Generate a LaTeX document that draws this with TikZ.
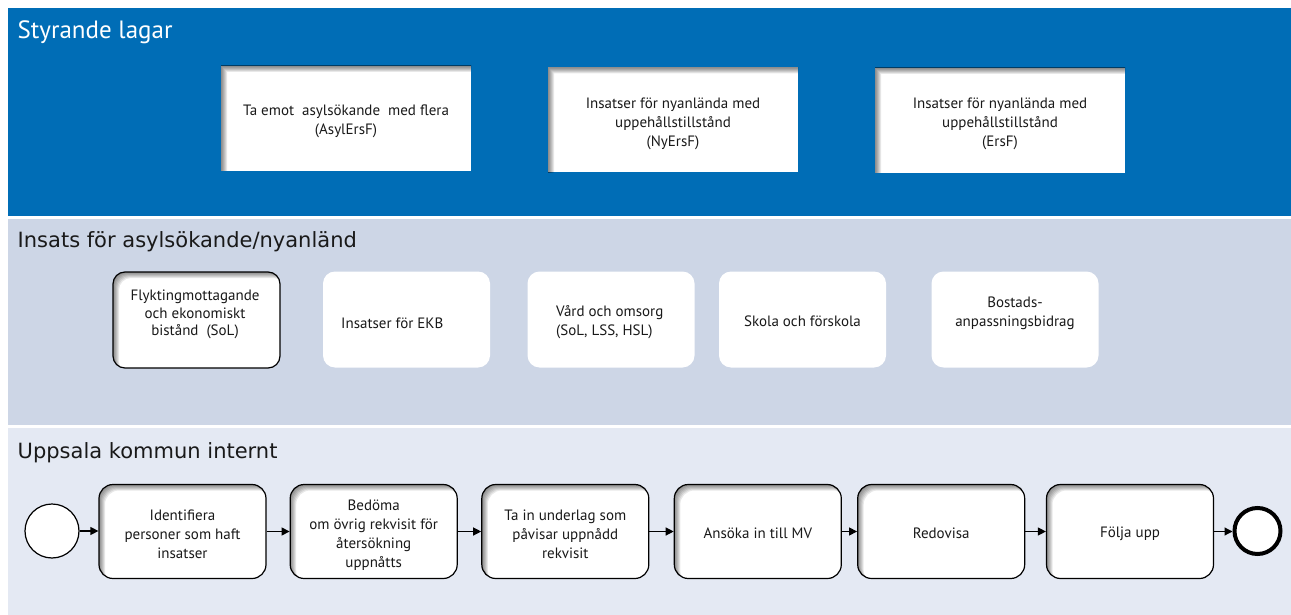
\documentclass[tikz,border=0pt]{standalone}
\usepackage{fontspec}
\setmainfont{PT Sans}
\newfontfamily\hdrfont{DejaVu Sans}
\usetikzlibrary{arrows.meta,calc}
\definecolor{topblue}{RGB}{0,109,182}
\definecolor{midband}{RGB}{205,214,230}
\definecolor{lowband}{RGB}{228,233,243}
\definecolor{txt}{RGB}{25,25,25}
\tikzset{
  ishadow/.style={path picture={
    \foreach \s in {1,...,6} {
      \fill[black,opacity=0.09,even odd rule,rounded corners=#1]
        ($(path picture bounding box.south west)+(-30pt,-30pt)$) rectangle ($(path picture bounding box.north east)+(30pt,30pt)$)
        ($(path picture bounding box.south west)+(\s pt,-\s pt)$) rectangle ($(path picture bounding box.north east)+(\s pt,-\s pt)$);
    }}},
  boxfont/.style={font=\fontsize{15}{19}\selectfont, text=txt},
  topbox/.style={fill=white, minimum width=250pt, minimum height=105pt, inner sep=0pt, ishadow=0.01pt},
  midbox/.style={fill=white, rounded corners=12pt, minimum width=167pt, minimum height=96pt, inner sep=0pt},
  procbox/.style={draw=black, line width=1.2pt, fill=white, rounded corners=14pt, minimum width=167pt, minimum height=94pt, inner sep=0pt, ishadow=14pt},
  lbl/.style={inner sep=0pt, boxfont, align=center},
  hdr/.style={anchor=base west, inner sep=0pt, text=txt, font=\hdrfont\fontsize{21}{22}\selectfont},
  arr/.style={line width=1.2pt, -{Triangle[length=8pt,width=8pt]}},
}
\begin{document}
\begin{tikzpicture}[x=1pt,y=-1pt]
\useasboundingbox (0,0) rectangle (1291,615);
\fill[white] (0,0) rectangle (1291,615);
% bands
\fill[topblue] (7.5,8) rectangle (1291,216);
\fill[midband] (7.5,219) rectangle (1291,425);
\fill[lowband] (7.5,427.5) rectangle (1291,615);
% headers
\node[anchor=base west, inner sep=0pt, text=white, font=\fontsize{25}{25}\selectfont] (h1) at (17.5,38.5) {Styrande lagar};
\node[hdr] (h2) at (17.5,247.5) {Insats för asylsökande/nyanländ};
\node[hdr] (h3) at (17.5,458) {Uppsala kommun internt};
% top boxes
\node[topbox] (l1) at (346,118.5) {};
\node[lbl] (lt1) at ($(l1)+(0,3)$) {Ta emot\ \ asylsökande\ \ med flera\\(AsylErsF)};
\node[topbox] (l2) at (673,120) {};
\node[lbl] (lt2) at ($(l2)+(0,3.5)$) {Insatser för nyanlända med\\uppehållstillstånd\\(NyErsF)};
\node[topbox] (l3) at (1000,120.5) {};
\node[lbl] (lt3) at ($(l3)+(0,3.5)$) {Insatser för nyanlända med\\uppehållstillstånd\\(ErsF)};
% middle boxes
\node[midbox, draw=black, line width=1.2pt, ishadow=12pt] (m1) at (196.5,320) {};
\node[lbl, font=\fontsize{15}{17.5}\selectfont] (t1) at (195,314.5) {Flyktingmottagande\\och ekonomiskt\\bistånd\ \ (SoL)};
\node[midbox] (m2) at (406.5,319.5) {};
\node[lbl, anchor=west] (t2) at (341,323) {Insatser för EKB};
\node[midbox] (m3) at (611,319.5) {};
\node[lbl, anchor=west, align=left] (t3) at (556,322) {Vård och omsorg\\(SoL, LSS, HSL)};
\node[midbox] (m4) at (802.5,319.5) {};
\node[lbl] (t4) at ($(m4)+(0,2)$) {Skola och förskola};
\node[midbox] (m5) at (1015,319.5) {};
\node[lbl] (t5) at (1015,313.5) {Bostads-\\anpassningsbidrag};
% process row
\node[circle, draw=black, line width=1.2pt, fill=white, minimum size=54pt, inner sep=0pt] (s) at (52,531) {};
\node[procbox] (b1) at (182.5,531.5) {};
\node[lbl] (p1) at ($(b1)+(0,3)$) {Identifiera\\personer som haft\\insatser};
\node[procbox] (b2) at (373.7,531.5) {};
\node[lbl] (p2) at ($(b2)+(0,3.5)$) {Bedöma\\om övrig rekvisit för\\återsökning\\uppnåtts};
\node[procbox] (b3) at (565.3,531.5) {};
\node[lbl] (p3) at ($(b3)+(0,3)$) {Ta in underlag som\\påvisar uppnådd\\rekvisit};
\node[procbox] (b4) at (757.8,531.5) {};
\node[lbl] (p4) at ($(b4)+(0,2)$) {Ansöka in till MV};
\node[procbox] (b5) at (941.2,531.5) {};
\node[lbl] (p5) at ($(b5)+(0,2)$) {Redovisa};
\node[procbox] (b6) at (1130,531.5) {};
\node[lbl] (p6) at ($(b6)+(0,2)$) {Följa upp};
\node[circle, draw=black, line width=4pt, fill=white, minimum size=46pt, inner sep=0pt] (e) at (1257.5,531) {};
\draw[arr] (s.east) -- (s.east -| b1.west);
\draw[arr] (b1.east) -- (b2.west);
\draw[arr] (b2.east) -- (b3.west);
\draw[arr] (b3.east) -- (b4.west);
\draw[arr] (b4.east) -- (b5.west);
\draw[arr] (b5.east) -- (b6.west);
\draw[arr] (b6.east) -- (b6.east -| e.west);
\end{tikzpicture}
\end{document}
